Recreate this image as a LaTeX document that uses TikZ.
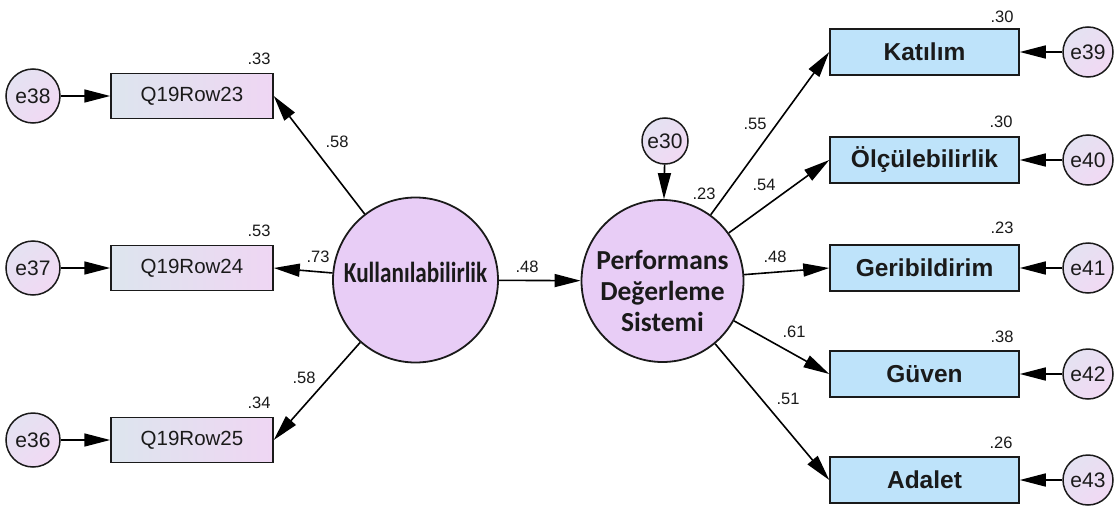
\documentclass[tikz,border=0pt]{standalone}
\usepackage{fontspec}
\setmainfont{Liberation Sans}
\newfontfamily\calib{Carlito}
\usetikzlibrary{arrows.meta,shadows}

\definecolor{latfill}{HTML}{E8CDF6}
\definecolor{boxblue}{HTML}{BEE3FA}
\definecolor{grayblue}{HTML}{DDE5EE}
\definecolor{pinkish}{HTML}{EFD6F3}
\definecolor{errA}{HTML}{E4E2F2}
\definecolor{errB}{HTML}{F1D9F3}
\definecolor{ink}{HTML}{1A1A1A}

\begin{document}
\begin{tikzpicture}[x=1pt,y=-1pt,
  line width=1.6pt,
  arr/.style={-{Triangle[length=26pt,width=13pt]}},
  errc/.style={circle, draw=ink, line width=1.5pt, inner sep=0pt,
    shading=axis, top color=errA, bottom color=errB, shading angle=45,
    text=ink, font=\fontsize{21}{21}\selectfont},
  lbox/.style={rectangle, draw=ink, line width=1.5pt, minimum width=162pt,
    minimum height=45pt, inner sep=0pt, left color=grayblue, right color=pinkish,
    text=ink, font=\fontsize{20.5}{20.5}\selectfont},
  rbox/.style={rectangle, draw=ink, line width=1.5pt, fill=boxblue,
    minimum width=189pt, minimum height=46pt, inner sep=0pt,
    drop shadow={shadow xshift=1.4pt, shadow yshift=-1.4pt, fill=ink, opacity=1},
    text=ink, font=\fontsize{24.5}{24.5}\selectfont\bfseries},
  lat/.style={circle, draw=ink, line width=1.8pt, fill=latfill, inner sep=0pt},
  lattext/.style={text=ink, align=center, inner sep=0pt},
  lab/.style={text=ink, font=\fontsize{16.5}{16.5}\selectfont, inner sep=0pt}
]
\useasboundingbox (0,0) rectangle (1115,508);
\fill[white] (0,0) rectangle (1115,508);

% latent variables
\node[lat, minimum size=165pt] (kul) at (415.5,280) {};
\node[lattext] (kultxt) at (415.5,272)
  {\calib\bfseries\fontsize{29}{29}\selectfont\scalebox{0.8}[1]{Kullanılabilirlik}};
\node[lat, minimum size=162pt] (perf) at (662.5,281) {};
\node[lattext, font=\calib\bfseries\fontsize{27.5}{31}\selectfont] (perftxt) at (662.5,291)
  {Performans\\Değerleme\\Sistemi};
\node[errc, minimum size=46pt] (e30) at (665,141) {e30};

% indicators of Kullanılabilirlik
\node[lbox] (q23) at (192,96) {Q19Row23};
\node[lbox] (q24) at (192,268) {Q19Row24};
\node[lbox] (q25) at (192,440) {Q19Row25};
\node[errc, minimum size=54pt] (e38) at (33,96) {e38};
\node[errc, minimum size=54pt] (e37) at (33,268) {e37};
\node[errc, minimum size=54pt] (e36) at (33,440) {e36};

% indicators of Performans Değerleme Sistemi
\node[rbox] (kat) at (924.5,52) {Katılım};
\node[rbox] (olc) at (924.5,160) {Ölçülebilirlik};
\node[rbox] (ger) at (924.5,268) {Geribildirim};
\node[rbox] (guv) at (924.5,374) {Güven};
\node[rbox] (ada) at (924.5,480) {Adalet};
\node[errc, minimum size=50pt] (e39) at (1088,52) {e39};
\node[errc, minimum size=50pt] (e40) at (1088,160) {e40};
\node[errc, minimum size=50pt] (e41) at (1088,268) {e41};
\node[errc, minimum size=50pt] (e42) at (1088,374) {e42};
\node[errc, minimum size=50pt] (e43) at (1088,480) {e43};

% paths
\draw[arr] (kul) -- (q23.east);
\draw[arr] (kul) -- (q24.east);
\draw[arr] (kul) -- (q25.east);
\draw[arr] (kul) -- (perf);
\draw[arr] (e30) -- (perf);
\draw[arr] (perf) -- (kat.west);
\draw[arr] (perf) -- (olc.west);
\draw[arr] (perf) -- (ger.west);
\draw[arr] (perf) -- (guv.west);
\draw[arr] (perf) -- (ada.west);
\foreach \e/\b in {e38/q23, e37/q24, e36/q25}
  \draw[arr] (\e) -- (\b);
\foreach \e/\b in {e39/kat, e40/olc, e41/ger, e42/guv, e43/ada}
  \draw[arr] (\e) -- (\b);

% estimates
\node[lab] (r23) at (259,59) {.33};
\node[lab] (r24) at (259,231) {.53};
\node[lab] (r25) at (259,403) {.34};
\node[lab] (w23) at (337,142) {.58};
\node[lab] (w24) at (318,257) {.73};
\node[lab] (w25) at (304,378) {.58};
\node[lab] (w48) at (527,267) {.48};
\node[lab] (rp) at (704,194) {.23};
\node[lab] (wk) at (755,124) {.55};
\node[lab] (wo) at (764,185) {.54};
\node[lab] (wg) at (775,257) {.48};
\node[lab] (wgu) at (794,332) {.61};
\node[lab] (wa) at (788,399) {.51};
\node[lab] (rk) at (1002,17) {.30};
\node[lab] (ro) at (1001,122) {.30};
\node[lab] (rg) at (1002,228) {.23};
\node[lab] (rgu) at (1002,337) {.38};
\node[lab] (ra) at (1001,443) {.26};
\end{tikzpicture}
\end{document}
